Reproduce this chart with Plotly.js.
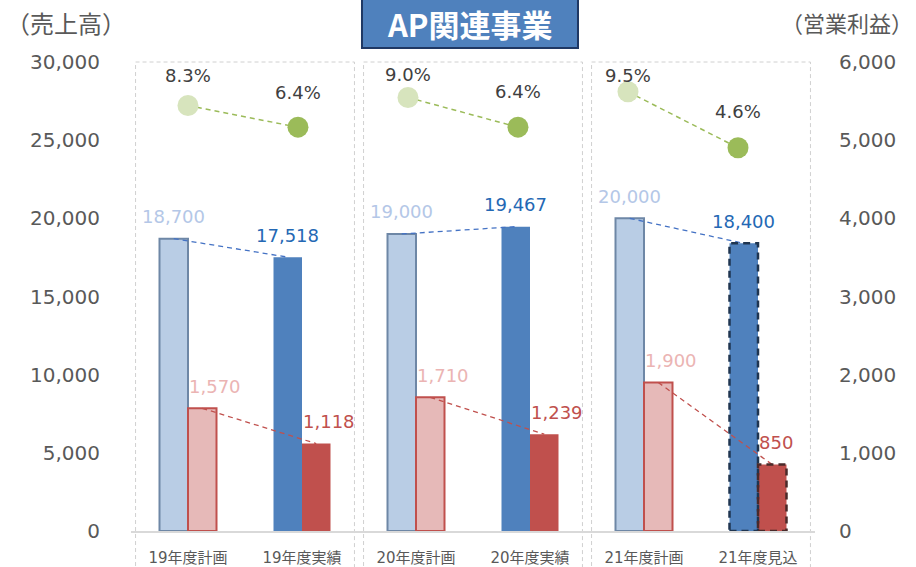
<!DOCTYPE html>
<html>
<head>
<meta charset="utf-8">
<script src="https://cdn.plot.ly/plotly-3.0.1.min.js"></script>
<style>html,body{margin:0;padding:0;background:#fff;}#chart{width:916px;height:567px;}</style>
</head>
<body>
<div id="chart"></div>
<script>
// ---- data ----
const categories = ['19年度計画', '19年度実績', '20年度計画', '20年度実績', '21年度計画', '21年度見込'];
const sales = [18700, 17518, 19000, 19467, 20000, 18400];      // 売上高 (left axis)
const profit = [1570, 1118, 1710, 1239, 1900, 850];            // 営業利益 (right axis)
const margin = [8.3, 6.4, 9.0, 6.4, 9.5, 4.6];                 // 営業利益率 (%)
const salesTicks = [0, 5000, 10000, 15000, 20000, 25000, 30000];
const profitTicks = [0, 1000, 2000, 3000, 4000, 5000, 6000];

// ---- styles ----
const FONT = 'DejaVu Sans, Noto Sans CJK JP, sans-serif';
const CJK = 'Noto Sans CJK JP, sans-serif';
const isPlan = categories.map((c, i) => i % 2 === 0);
const salesFill = isPlan.map(p => p ? '#b9cde5' : '#4f81bd');
const salesLine = isPlan.map(p => p ? '#6e87a6' : '#4f81bd');
const salesLineW = isPlan.map(p => p ? 2 : 0);
const profitFill = isPlan.map(p => p ? '#e6b9b8' : '#c0504d');
const profitLine = isPlan.map(p => p ? '#c0504d' : '#c0504d');
const profitLineW = isPlan.map(p => p ? 2 : 0);
const salesLabelColor = isPlan.map(p => p ? '#b4c7e7' : '#2468b4');
const profitLabelColor = isPlan.map(p => p ? '#ebb4b3' : '#c0504d');
const marginMarker = isPlan.map(p => p ? '#d7e4bd' : '#9bbb59');
const marginLabelShift = [30, 35, 23, 36, 16, 36];
const BAR_W = 0.25;

const fmt = v => v.toLocaleString('en-US');
const idx = categories.map((c, i) => i);

// connectors within each group (plan -> actual)
function pairs(vals, off) {
  const xs = [], ys = [];
  for (let g = 0; g < vals.length; g += 2) {
    xs.push(g + off, g + 1 + off, null);
    ys.push(vals[g], vals[g + 1], null);
  }
  return {xs, ys};
}
const sPair = pairs(sales, -BAR_W / 2);
const pPair = pairs(profit, BAR_W / 2);
const mPair = pairs(margin, 0);

const traces = [
  {type: 'bar', x: categories, y: sales, xaxis: 'x', yaxis: 'y', width: BAR_W, offset: -BAR_W,
   marker: {color: salesFill, line: {color: salesLine, width: salesLineW}}, hoverinfo: 'skip'},
  {type: 'bar', x: categories, y: profit, xaxis: 'x', yaxis: 'y2', width: BAR_W, offset: 0,
   marker: {color: profitFill, line: {color: profitLine, width: profitLineW}}, hoverinfo: 'skip'},
  {type: 'scatter', mode: 'lines', x: sPair.xs, y: sPair.ys, xaxis: 'x2', yaxis: 'y',
   line: {color: '#4472c4', width: 1.3, dash: '5px,4px'}, connectgaps: false, hoverinfo: 'skip'},
  {type: 'scatter', mode: 'lines', x: pPair.xs, y: pPair.ys, xaxis: 'x2', yaxis: 'y2',
   line: {color: '#c0504d', width: 1.3, dash: '5px,4px'}, connectgaps: false, hoverinfo: 'skip'},
  {type: 'scatter', mode: 'lines', x: mPair.xs, y: mPair.ys, xaxis: 'x3', yaxis: 'y3',
   line: {color: '#9bbb59', width: 1.5, dash: '5px,4px'}, connectgaps: false, hoverinfo: 'skip'},
  {type: 'scatter', mode: 'markers', x: idx, y: margin, xaxis: 'x3', yaxis: 'y3',
   marker: {size: 21, color: marginMarker, line: {width: 0}}, hoverinfo: 'skip'}
];

const annotations = [];
idx.forEach(i => {
  annotations.push({xref: 'x2', yref: 'y', x: i - BAR_W / 2, y: sales[i], text: fmt(sales[i]),
    showarrow: false, xanchor: 'center', yanchor: 'middle', yshift: 22,
    font: {family: FONT, size: 18, color: salesLabelColor[i]}});
  annotations.push({xref: 'x2', yref: 'y2', x: i, y: profit[i], text: fmt(profit[i]),
    showarrow: false, xanchor: 'left', yanchor: 'middle', yshift: 22, xshift: -1,
    font: {family: FONT, size: 18, color: profitLabelColor[i]}});
  annotations.push({xref: 'x3', yref: 'y3', x: i, y: margin[i], text: margin[i].toFixed(1) + '%',
    showarrow: false, xanchor: 'center', yanchor: 'middle', yshift: marginLabelShift[i],
    font: {family: FONT, size: 18, color: '#404040'}});
});
annotations.push({xref: 'paper', yref: 'paper', x: 0.4956, y: 1.083, text: '<b>AP関連事業</b>',
  showarrow: false, xanchor: 'center', yanchor: 'middle', font: {family: CJK, size: 31, color: '#ffffff'}});
annotations.push({xref: 'paper', yref: 'paper', x: -0.186, y: 1.085, text: '（売上高）',
  showarrow: false, xanchor: 'left', yanchor: 'middle', font: {family: CJK, size: 24, color: '#595959'}});
annotations.push({xref: 'paper', yref: 'paper', x: 1.146, y: 1.085, text: '（営業利益）',
  showarrow: false, xanchor: 'right', yanchor: 'middle', font: {family: CJK, size: 22, color: '#595959'}});

const shapes = [];
// dashed group frames
const nCat = categories.length;
const toPaper = v => (v + 0.5) / nCat;
for (let g = 0; g < nCat; g += 2) {
  shapes.push({type: 'rect', xref: 'paper', yref: 'paper', x0: toPaper(g - 0.46), x1: toPaper(g + 1.46),
    y0: -0.09, y1: 1.0, line: {color: '#d0d0d0', width: 1, dash: '4px,3px'}, layer: 'below'});
}
// dashed outline on forecast bars
const last = nCat - 1;
shapes.push({type: 'rect', xref: 'x', yref: 'y', x0: last - BAR_W, x1: last, y0: 0, y1: sales[last],
  line: {color: '#1f3550', width: 2.5, dash: '7px,5px'}, layer: 'above'});
shapes.push({type: 'rect', xref: 'x', yref: 'y2', x0: last, x1: last + BAR_W, y0: 0, y1: profit[last],
  line: {color: '#4a2a2a', width: 2.5, dash: '7px,5px'}, layer: 'above'});
// title box
shapes.push({type: 'rect', xref: 'paper', yref: 'paper', x0: 0.3377, x1: 0.6535, y0: 1.03, y1: 1.15,
  fillcolor: '#4f81bd', line: {color: '#1f3864', width: 2}, layer: 'above'});

const axisFontY = {family: FONT, size: 20, color: '#595959'};
const layout = {
  width: 916, height: 567,
  margin: {l: 131, r: 101, t: 62, b: 36, pad: 0},
  paper_bgcolor: '#ffffff', plot_bgcolor: 'rgba(0,0,0,0)',
  showlegend: false, hovermode: false, barmode: 'overlay',
  xaxis: {type: 'category', categoryorder: 'array', categoryarray: categories, range: [-0.5, 5.5],
    showline: true, linecolor: '#d9d9d9', linewidth: 2, showgrid: false, zeroline: false,
    ticks: 'outside', ticklen: 12, tickcolor: 'rgba(0,0,0,0)',
    tickfont: {family: FONT, size: 15, color: '#595959'}, fixedrange: true},
  xaxis2: {overlaying: 'x', type: 'linear', range: [-0.5, 5.5], visible: false, fixedrange: true},
  xaxis3: {overlaying: 'x', type: 'linear', range: [-0.518, 5.7], visible: false, fixedrange: true},
  yaxis: {range: [0, 30000], tickvals: salesTicks, ticktext: salesTicks.map(fmt), showgrid: false,
    zeroline: false, showline: false, ticks: 'outside', ticklen: 26, tickcolor: 'rgba(0,0,0,0)',
    tickfont: axisFontY, fixedrange: true},
  yaxis2: {overlaying: 'y', side: 'right', range: [0, 6000], tickvals: profitTicks,
    ticktext: profitTicks.map(fmt), showgrid: false, zeroline: false, showline: false,
    ticks: 'outside', ticklen: 19, tickcolor: 'rgba(0,0,0,0)', tickfont: axisFontY, fixedrange: true},
  yaxis3: {overlaying: 'y', range: [-28.9, 12.1], visible: false, fixedrange: true},
  annotations: annotations,
  shapes: shapes
};

Plotly.newPlot('chart', traces, layout, {staticPlot: true, displayModeBar: false});
</script>
</body>
</html>
